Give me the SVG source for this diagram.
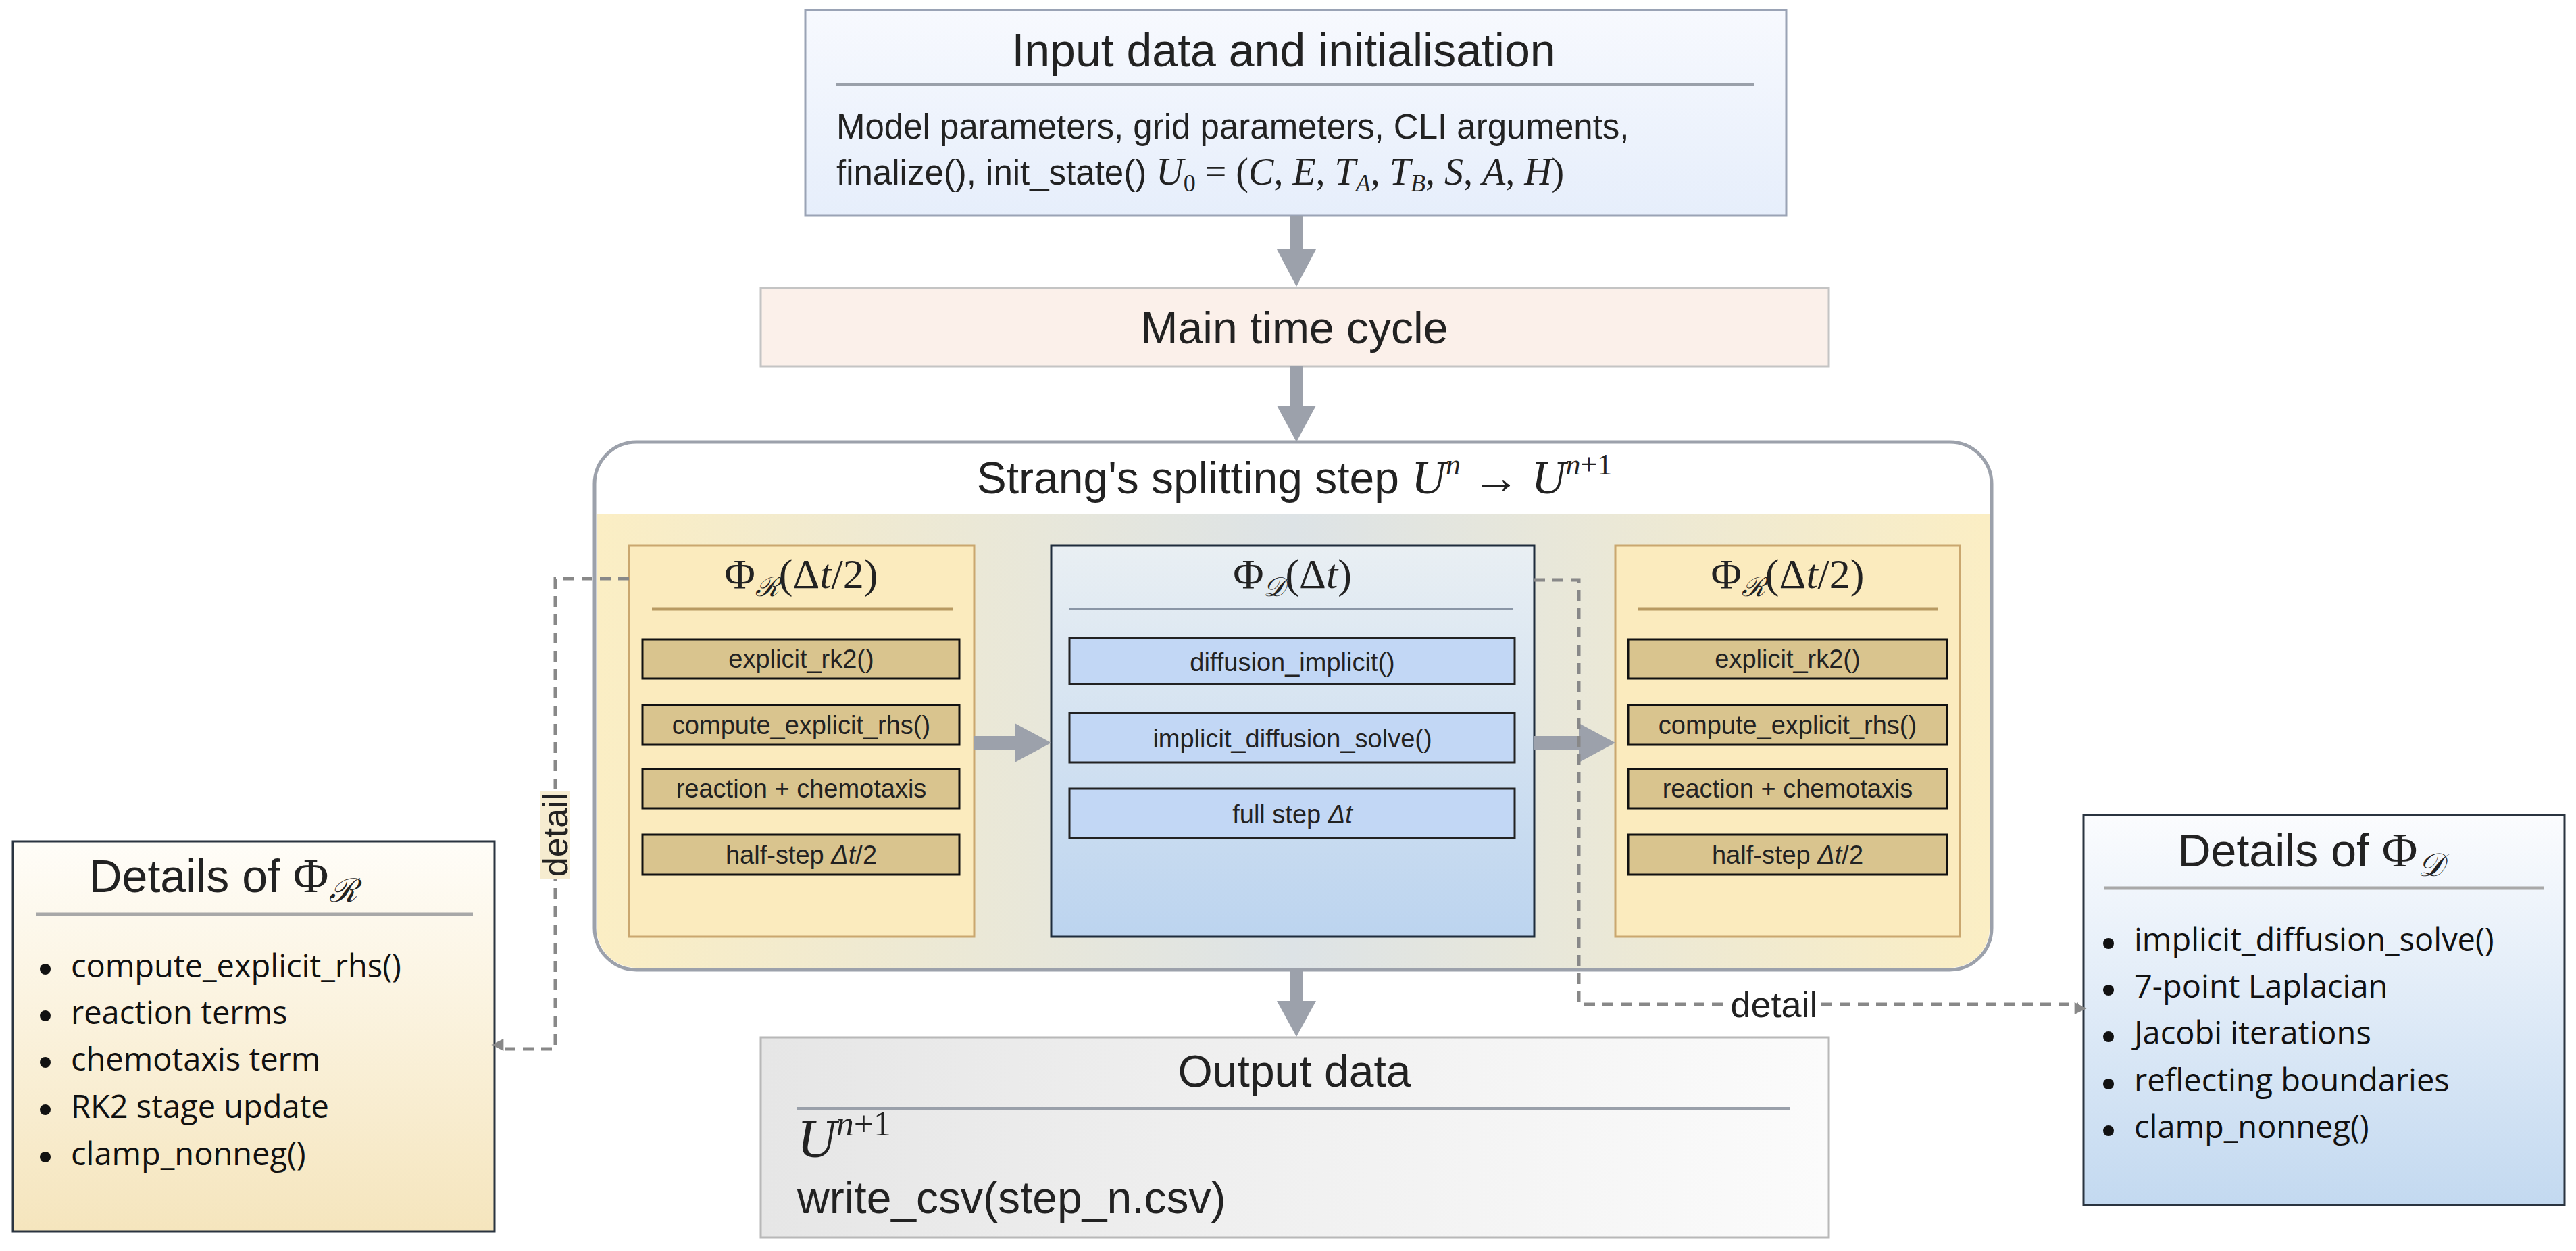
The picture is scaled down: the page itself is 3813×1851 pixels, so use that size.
<svg xmlns="http://www.w3.org/2000/svg" width="3813" height="1851" viewBox="0 0 3813 1851">
<style>
text{font-family:"Liberation Sans",Arial,sans-serif;fill:#222}
.m{font-family:"Liberation Serif","DejaVu Serif",serif}
.i{font-style:italic}
.sb{fill:#d9c48e;stroke:#111;stroke-width:3}
.bb{fill:#c2d7f5;stroke:#222;stroke-width:3}
.st{font-size:38px;text-anchor:middle}
.li{font-family:"Open Sans","Noto Sans",sans-serif;font-size:47px;fill:#111}
.dash{fill:none;stroke:#888;stroke-width:5;stroke-dasharray:16 11}
.arr{fill:#9ca1ab}
</style>
<defs>
<linearGradient id="gTop" x1="0" y1="0" x2="0" y2="1"><stop offset="0" stop-color="#f7f9fe"/><stop offset="1" stop-color="#e6eefb"/></linearGradient>
<linearGradient id="gStrang" x1="0" y1="0" x2="1" y2="0"><stop offset="0" stop-color="#fbeec4"/><stop offset="0.5" stop-color="#dde3e6"/><stop offset="1" stop-color="#fbeec4"/></linearGradient>
<linearGradient id="gMid" x1="0" y1="0" x2="0" y2="1"><stop offset="0" stop-color="#e9eff3"/><stop offset="1" stop-color="#bcd4ef"/></linearGradient>
<linearGradient id="gOut" x1="0" y1="0" x2="1" y2="0"><stop offset="0" stop-color="#e6e6e6"/><stop offset="1" stop-color="#fbfbfb"/></linearGradient>
<linearGradient id="gL" x1="0" y1="0" x2="0" y2="1"><stop offset="0" stop-color="#fffdf8"/><stop offset="1" stop-color="#f5e5bd"/></linearGradient>
<linearGradient id="gR" x1="0" y1="0" x2="0" y2="1"><stop offset="0" stop-color="#fbfcfe"/><stop offset="1" stop-color="#c3d9f0"/></linearGradient>
<marker id="ah" viewBox="0 0 10 10" refX="9" refY="5" markerWidth="6" markerHeight="6" orient="auto" markerUnits="userSpaceOnUse" style="overflow:visible"><path d="M0,0 L10,5 L0,10 Z" fill="#888" transform="scale(3)"/></marker>
</defs>

<g id="input">
<rect x="1192" y="15" width="1452" height="304" fill="url(#gTop)" stroke="#9aa3b5" stroke-width="3"/>
<text x="1900" y="98" font-size="68" text-anchor="middle">Input data and initialisation</text>
<line x1="1238" y1="125" x2="2597" y2="125" stroke="#9aa0aa" stroke-width="4"/>
<text x="1238" y="205" font-size="51">Model parameters, grid parameters, CLI arguments,</text>
<text x="1238" y="273" font-size="51">finalize(), init_state() <tspan class="m i" font-size="56">U</tspan><tspan class="m" font-size="36" dy="10">0</tspan><tspan class="m" font-size="56" dy="-10"> = (</tspan><tspan class="m i" font-size="56">C</tspan><tspan class="m" font-size="56">, </tspan><tspan class="m i" font-size="56">E</tspan><tspan class="m" font-size="56">, </tspan><tspan class="m i" font-size="56">T</tspan><tspan class="m i" font-size="36" dy="10">A</tspan><tspan class="m" font-size="56" dy="-10">, </tspan><tspan class="m i" font-size="56">T</tspan><tspan class="m i" font-size="36" dy="10">B</tspan><tspan class="m" font-size="56" dy="-10">, </tspan><tspan class="m i" font-size="56">S</tspan><tspan class="m" font-size="56">, </tspan><tspan class="m i" font-size="56">A</tspan><tspan class="m" font-size="56">, </tspan><tspan class="m i" font-size="56">H</tspan><tspan class="m" font-size="56">)</tspan></text>
</g>

<g id="main">
<rect x="1126" y="426" width="1581" height="116" fill="#fbf0ea" stroke="#c4c4c4" stroke-width="3"/>
<text x="1916" y="508" font-size="66" text-anchor="middle">Main time cycle</text>
</g>

<g id="strang">
<rect x="880" y="654" width="2068" height="781" rx="62" fill="#fff" stroke="#9ca1ab" stroke-width="5"/>
<path d="M883,760 H2945 V1373 A59,59 0 0 1 2886,1432 H942 A59,59 0 0 1 883,1373 Z" fill="url(#gStrang)"/>
<text x="1916" y="730" font-size="66" text-anchor="middle">Strang's splitting step <tspan class="m i" font-size="70">U</tspan><tspan class="m i" font-size="44" dy="-28">n</tspan><tspan class="m" font-size="70" dy="28"> → </tspan><tspan class="m i" font-size="70">U</tspan><tspan class="m i" font-size="44" dy="-28">n</tspan><tspan class="m" font-size="44">+1</tspan></text>
</g>

<g id="phiR1">
<rect x="931" y="807" width="511" height="579" fill="#fbebbe" stroke="#caa76f" stroke-width="3"/>
<text x="1186" y="870" class="m" font-size="62" text-anchor="middle">Φ<tspan class="i" font-size="40" dy="12">ℛ</tspan><tspan dy="-12">(Δ</tspan><tspan class="i">t</tspan>/2)</text>
<line x1="965" y1="901" x2="1410" y2="901" stroke="#b89a62" stroke-width="5"/>
<rect class="sb" x="951" y="946" width="469" height="58"/><text class="st" x="1186" y="988">explicit_rk2()</text>
<rect class="sb" x="951" y="1043" width="469" height="59"/><text class="st" x="1186" y="1086">compute_explicit_rhs()</text>
<rect class="sb" x="951" y="1138" width="469" height="58"/><text class="st" x="1186" y="1180">reaction + chemotaxis</text>
<rect class="sb" x="951" y="1235" width="469" height="59"/><text class="st" x="1186" y="1278">half-step <tspan font-style="italic">Δt</tspan>/2</text>
</g>

<g id="phiD">
<rect x="1556" y="807" width="715" height="579" fill="url(#gMid)" stroke="#1e2c3c" stroke-width="3"/>
<text x="1913" y="870" class="m" font-size="62" text-anchor="middle">Φ<tspan class="i" font-size="40" dy="12">𝒟</tspan><tspan dy="-12">(Δ</tspan><tspan class="i">t</tspan>)</text>
<line x1="1583" y1="901" x2="2240" y2="901" stroke="#8a96a6" stroke-width="4"/>
<rect class="bb" x="1583" y="944" width="659" height="68"/><text class="st" x="1913" y="993" font-size="44">diffusion_implicit()</text>
<rect class="bb" x="1583" y="1055" width="659" height="73"/><text class="st" x="1913" y="1106" font-size="44">implicit_diffusion_solve()</text>
<rect class="bb" x="1583" y="1167" width="659" height="73"/><text class="st" x="1913" y="1218" font-size="44">full step <tspan font-style="italic">Δt</tspan></text>
</g>

<g id="phiR2">
<rect x="2391" y="807" width="510" height="579" fill="#fbebbe" stroke="#caa76f" stroke-width="3"/>
<text x="2646" y="870" class="m" font-size="62" text-anchor="middle">Φ<tspan class="i" font-size="40" dy="12">ℛ</tspan><tspan dy="-12">(Δ</tspan><tspan class="i">t</tspan>/2)</text>
<line x1="2424" y1="901" x2="2868" y2="901" stroke="#b89a62" stroke-width="5"/>
<rect class="sb" x="2410" y="946" width="472" height="58"/><text class="st" x="2646" y="988">explicit_rk2()</text>
<rect class="sb" x="2410" y="1043" width="472" height="59"/><text class="st" x="2646" y="1086">compute_explicit_rhs()</text>
<rect class="sb" x="2410" y="1138" width="472" height="58"/><text class="st" x="2646" y="1180">reaction + chemotaxis</text>
<rect class="sb" x="2410" y="1235" width="472" height="59"/><text class="st" x="2646" y="1278">half-step <tspan font-style="italic">Δt</tspan>/2</text>
</g>

<g id="output">
<rect x="1126" y="1535" width="1581" height="296" fill="url(#gOut)" stroke="#b8b8b8" stroke-width="3"/>
<text x="1916" y="1608" font-size="66" text-anchor="middle">Output data</text>
<line x1="1180" y1="1640" x2="2650" y2="1640" stroke="#9aa0aa" stroke-width="4"/>
<text x="1180" y="1712" class="m i" font-size="80">U<tspan font-size="52" dy="-32">n</tspan><tspan font-style="normal" font-size="52">+1</tspan></text>
<text x="1180" y="1795" font-size="66">write_csv(step_n.csv)</text>
</g>

<g id="detailsR">
<rect x="19" y="1245" width="713" height="577" fill="url(#gL)" stroke="#2a3440" stroke-width="3"/>
<text x="330" y="1320" font-size="68" text-anchor="middle" fill="#333">Details of <tspan class="m" font-size="72">Φ</tspan><tspan class="m i" font-size="48" dy="14">ℛ</tspan></text>
<line x1="53" y1="1353" x2="700" y2="1353" stroke="#a8a8a8" stroke-width="5"/>
<g class="li">
<circle cx="67" cy="1434" r="8" fill="#111"/><text class="li" x="105" y="1446">compute_explicit_rhs()</text>
<circle cx="67" cy="1503" r="8" fill="#111"/><text class="li" x="105" y="1515">reaction terms</text>
<circle cx="67" cy="1572" r="8" fill="#111"/><text class="li" x="105" y="1584">chemotaxis term</text>
<circle cx="67" cy="1642" r="8" fill="#111"/><text class="li" x="105" y="1654">RK2 stage update</text>
<circle cx="67" cy="1712" r="8" fill="#111"/><text class="li" x="105" y="1724">clamp_nonneg()</text>
</g>
</g>

<g id="detailsD">
<rect x="3084" y="1206" width="712" height="577" fill="url(#gR)" stroke="#2a3440" stroke-width="3"/>
<text x="3420" y="1282" font-size="68" text-anchor="middle" fill="#333">Details of <tspan class="m" font-size="72">Φ</tspan><tspan class="m i" font-size="48" dy="14">𝒟</tspan></text>
<line x1="3115" y1="1314" x2="3765" y2="1314" stroke="#a8a8a8" stroke-width="5"/>
<circle cx="3121" cy="1396" r="8" fill="#111"/><text class="li" x="3159" y="1407">implicit_diffusion_solve()</text>
<circle cx="3121" cy="1465" r="8" fill="#111"/><text class="li" x="3159" y="1476">7-point Laplacian</text>
<circle cx="3121" cy="1534" r="8" fill="#111"/><text class="li" x="3159" y="1545">Jacobi iterations</text>
<circle cx="3121" cy="1604" r="8" fill="#111"/><text class="li" x="3159" y="1615">reflecting boundaries</text>
<circle cx="3121" cy="1673" r="8" fill="#111"/><text class="li" x="3159" y="1684">clamp_nonneg()</text>
</g>

<g id="connectors">
<rect class="arr" x="1909" y="319" width="20" height="52"/><path class="arr" d="M1890,369 H1948 L1919,424 Z"/>
<rect class="arr" x="1909" y="542" width="20" height="60"/><path class="arr" d="M1890,600 H1948 L1919,654 Z"/>
<rect class="arr" x="1909" y="1435" width="20" height="48"/><path class="arr" d="M1890,1481 H1948 L1919,1534 Z"/>
<rect class="arr" x="1442" y="1089" width="62" height="20"/><path class="arr" d="M1502,1070 V1128 L1556,1099 Z"/>
<rect class="arr" x="2271" y="1089" width="68" height="20"/><path class="arr" d="M2337,1070 V1128 L2391,1099 Z"/>
<path class="dash" d="M931,856 H822 V1552 H740" marker-end="url(#ah)"/>
<rect x="800" y="1170" width="44" height="130" fill="#f6ecd0"/>
<text x="822" y="1235" font-size="52" fill="#8a8a8a" text-anchor="middle" transform="rotate(-90 822 1235)" dy="18">detail</text>
<path class="dash" d="M2271,858 H2337 V1486 H3076" marker-end="url(#ah)"/>
<rect x="2558" y="1458" width="136" height="56" fill="#fff"/>
<text x="2626" y="1505" font-size="54" fill="#8a8a8a" text-anchor="middle">detail</text>
</g>
</svg>
